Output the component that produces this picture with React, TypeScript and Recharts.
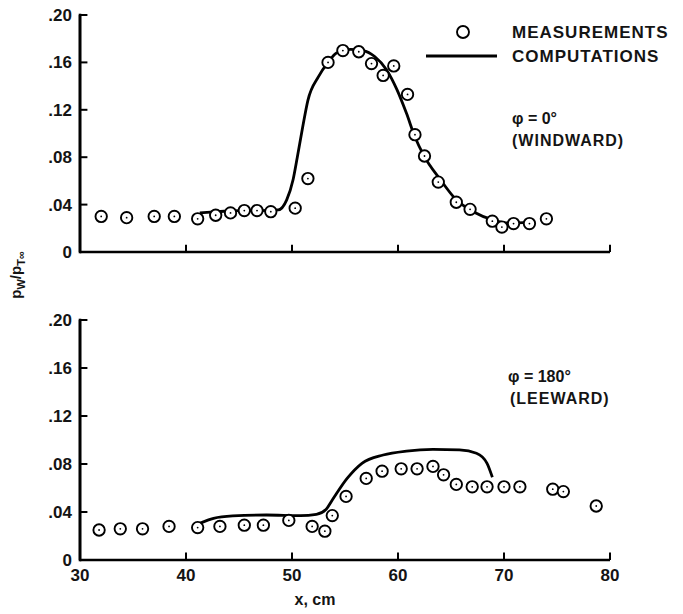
import React from 'react';
import { ComposedChart, Scatter, Line, XAxis, YAxis } from 'recharts';

// ---- axes ----
const xTicks = [30, 40, 50, 60, 70, 80];
const yTicks = [0, 0.04, 0.08, 0.12, 0.16, 0.2];

// ---- windward (phi = 0 deg) ----
const windMeasX = [32.0, 34.4, 37.0, 38.9, 41.1, 42.8, 44.2, 45.5, 46.7, 48.0, 50.3, 51.5, 53.4, 54.8, 56.3, 57.5, 58.6, 59.6, 60.9, 61.6, 62.5, 63.8, 65.5, 66.8, 68.9, 69.8, 70.9, 72.4, 74.0];
const windMeasY = [0.030, 0.029, 0.030, 0.030, 0.028, 0.031, 0.033, 0.035, 0.035, 0.034, 0.037, 0.062, 0.160, 0.170, 0.169, 0.159, 0.149, 0.157, 0.133, 0.099, 0.081, 0.059, 0.042, 0.036, 0.026, 0.021, 0.024, 0.024, 0.028];
const windCompX = [41.3, 43.0, 45.0, 47.0, 48.7, 49.5, 50.1, 50.5, 51.0, 51.5, 52.5, 53.4, 54.2, 55.5, 56.7, 57.8, 58.9, 59.9, 60.8, 61.6, 62.4, 64.0, 65.5, 67.1, 69.0, 70.3, 72.5];
const windCompY = [0.033, 0.034, 0.035, 0.035, 0.0355, 0.044, 0.061, 0.080, 0.105, 0.128, 0.148, 0.160, 0.168, 0.171, 0.170, 0.165, 0.154, 0.137, 0.117, 0.097, 0.082, 0.061, 0.044, 0.034, 0.027, 0.0245, 0.025];

// ---- leeward (phi = 180 deg) ----
const leeMeasX = [31.8, 33.8, 35.9, 38.4, 41.1, 43.2, 45.5, 47.3, 49.7, 51.9, 53.1, 53.8, 55.1, 57.0, 58.5, 60.3, 61.8, 63.3, 64.3, 65.5, 67.0, 68.4, 70.0, 71.5, 74.6, 75.6, 78.7];
const leeMeasY = [0.025, 0.026, 0.026, 0.028, 0.027, 0.028, 0.029, 0.029, 0.033, 0.028, 0.024, 0.037, 0.053, 0.068, 0.074, 0.076, 0.076, 0.078, 0.071, 0.063, 0.061, 0.061, 0.061, 0.061, 0.059, 0.057, 0.045];
const leeCompX = [41.3, 42.6, 44.4, 47.6, 50.8, 52.3, 53.2, 53.8, 55.2, 56.6, 58.6, 60.8, 63.3, 65.8, 67.4, 68.4, 68.9];
const leeCompY = [0.0305, 0.0347, 0.0367, 0.0375, 0.037, 0.038, 0.042, 0.050, 0.068, 0.0806, 0.0875, 0.0908, 0.0922, 0.0917, 0.089, 0.0806, 0.069];

const toPts = (xs: number[], ys: number[]) => xs.map((x, i) => ({ x, y: ys[i] }));

const INK = '#000';
const FONT = '"Liberation Sans", Arial, sans-serif';
const X_MIN = 30;
const Y_MIN = 0;
const Y_MAX = 0.2;
const X_TICK_LEN = 0.0062; // inward tick length, y units (~7px)
const Y_TICK_LEN = 0.7; // inward tick length, x units (~7px)

// axis frame segments built from the tick arrays (drawn through the chart scales)
const yAxisSeg = [{ x: X_MIN, y: Y_MIN }, { x: X_MIN, y: Y_MAX }];
const yTickSegs = yTicks.map((t) => [{ x: X_MIN, y: t }, { x: X_MIN + Y_TICK_LEN, y: t }]);
const xTickSegs = xTicks.map((t) => [{ x: t, y: Y_MIN }, { x: t, y: Y_MIN + X_TICK_LEN }]);

const Ring = (props: any) => {
  const { cx, cy } = props;
  if (cx == null || cy == null) return <g />;
  return (
    <g>
      <circle cx={cx} cy={cy} r={5.7} fill="#fff" stroke={INK} strokeWidth={1.9} />
      <circle cx={cx} cy={cy} r={0.9} fill={INK} />
    </g>
  );
};

const yFmt = (v: number) => (v === 0 ? '0' : v.toFixed(2).replace(/^0/, ''));
const tickStyle = { fill: '#141414', fontSize: 17, fontWeight: 700, fontFamily: FONT };

function Panel(props: {
  meas: { x: number; y: number }[];
  comp: { x: number; y: number }[];
  height: number;
  margin: any;
  xAxisHeight: number;
  showXLabels: boolean;
}) {
  const { meas, comp, height, margin, xAxisHeight, showXLabels } = props;
  return (
    <ComposedChart width={683} height={height} margin={margin}>
      <XAxis
        type="number"
        dataKey="x"
        domain={[30, 80]}
        ticks={xTicks}
        height={xAxisHeight}
        stroke="#000"
        strokeWidth={2.6}
        tickLine={false}
        tickSize={0}
        tickMargin={9}
        tick={showXLabels ? tickStyle : false}
      />
      <YAxis
        type="number"
        dataKey="y"
        domain={[0, 0.2]}
        ticks={yTicks}
        width={80}
        stroke="#000"
        strokeWidth={2.6}
        tickLine={false}
        tickSize={0}
        tickMargin={8}
        tick={tickStyle}
        tickFormatter={yFmt}
      />
      <Line
        data={yAxisSeg}
        dataKey="y"
        type="linear"
        stroke={INK}
        strokeWidth={2.6}
        strokeLinecap="square"
        dot={false}
        activeDot={false}
        isAnimationActive={false}
      />
      {yTickSegs.map((seg, i) => (
        <Line
          key={'yt' + i}
          data={seg}
          dataKey="y"
          type="linear"
          stroke={INK}
          strokeWidth={2}
          dot={false}
          activeDot={false}
          isAnimationActive={false}
        />
      ))}
      {xTickSegs.map((seg, i) => (
        <Line
          key={'xt' + i}
          data={seg}
          dataKey="y"
          type="linear"
          stroke={INK}
          strokeWidth={2}
          dot={false}
          activeDot={false}
          isAnimationActive={false}
        />
      ))}
      <Line
        data={comp}
        dataKey="y"
        type="monotone"
        stroke={INK}
        strokeWidth={2.8}
        dot={false}
        activeDot={false}
        isAnimationActive={false}
      />
      <Scatter data={meas} dataKey="y" shape={Ring} isAnimationActive={false} />
    </ComposedChart>
  );
}

export default function App() {
  const txt = { fill: '#141414', fontFamily: FONT, fontWeight: 700 } as any;
  return (
    <div style={{ position: 'absolute', left: 0, top: 0, width: 683, height: 614 }}>
      <svg width={683} height={614} style={{ position: 'absolute', left: 0, top: 0 }}>
        <circle cx={463} cy={32} r={6} fill="#fff" stroke={INK} strokeWidth={1.9} />
        <text x={512} y={38} {...txt} fontSize={17} letterSpacing={1}>MEASUREMENTS</text>
        <line x1={426} y1={56} x2={497} y2={56} stroke={INK} strokeWidth={2.8} />
        <text x={512} y={62} {...txt} fontSize={17} letterSpacing={1}>COMPUTATIONS</text>
        <text x={512} y={124} {...txt} fontSize={16}>φ = 0°</text>
        <text x={512} y={146} {...txt} fontSize={16} letterSpacing={1}>(WINDWARD)</text>
        <text x={508} y={382} {...txt} fontSize={16}>φ = 180°</text>
        <text x={510} y={404} {...txt} fontSize={16} letterSpacing={1}>(LEEWARD)</text>
        <text x={315} y={605} {...txt} fontSize={16} textAnchor="middle">x, cm</text>
        <text x={21} y={275} {...txt} fontSize={15} textAnchor="middle" transform="rotate(-90, 21, 275)">
          <tspan>p</tspan>
          <tspan fontSize={11} dy={4}>W</tspan>
          <tspan dy={-4}>/p</tspan>
          <tspan fontSize={11} dy={4}>T∞</tspan>
        </text>
      </svg>
      <div style={{ position: 'absolute', left: 0, top: 0 }}>
        <Panel
          meas={toPts(windMeasX, windMeasY)}
          comp={toPts(windCompX, windCompY)}
          height={285}
          margin={{ top: 15, right: 73, bottom: 25, left: 0 }}
          xAxisHeight={8}
          showXLabels={false}
        />
      </div>
      <div style={{ position: 'absolute', left: 0, top: 300 }}>
        <Panel
          meas={toPts(leeMeasX, leeMeasY)}
          comp={toPts(leeCompX, leeCompY)}
          height={314}
          margin={{ top: 20, right: 73, bottom: 24, left: 0 }}
          xAxisHeight={30}
          showXLabels={true}
        />
      </div>
    </div>
  );
}
